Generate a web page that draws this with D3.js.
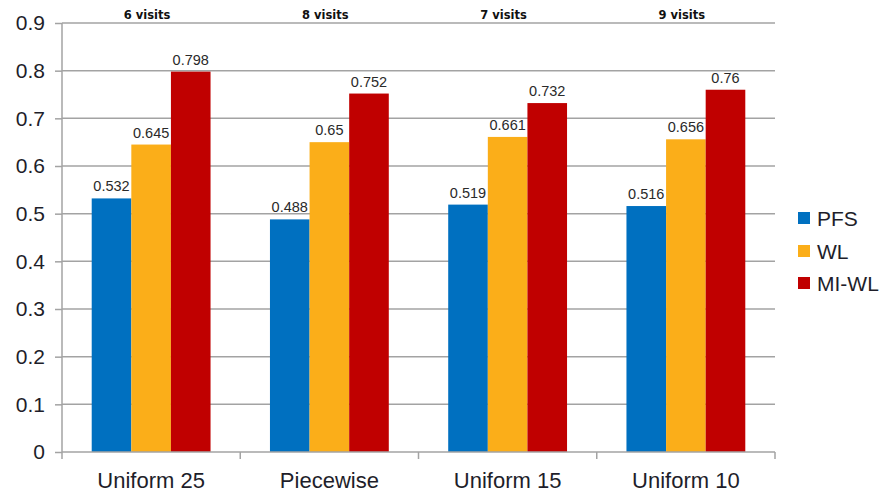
<!DOCTYPE html>
<html>
<head>
<meta charset="utf-8">
<script src="https://cdn.jsdelivr.net/npm/d3@7"></script>
<style>
  html, body { margin: 0; padding: 0; background: #fff; }
  svg { display: block; }
</style>
</head>
<body>
<svg id="chart" width="893" height="493"></svg>
<script>
// Accuracy per sampling scheme
const categories = ["Uniform 25", "Piecewise", "Uniform 15", "Uniform 10"];
const visits = ["6 visits", "8 visits", "7 visits", "9 visits"];
const seriesNames = ["PFS", "WL", "MI-WL"];
const pfs = [0.532, 0.488, 0.519, 0.516];
const wl = [0.645, 0.65, 0.661, 0.656];
const miwl = [0.798, 0.752, 0.732, 0.76];
const yTicks = [0, 0.1, 0.2, 0.3, 0.4, 0.5, 0.6, 0.7, 0.8, 0.9];

const seriesValues = [pfs, wl, miwl];
const colors = ["#0070C0", "#FBAE19", "#C00000"];

const svg = d3.select("#chart");
const plotLeft = 62, plotRight = 775, plotTop = 23, plotBottom = 452;
const textColor = "#1e1e2a";

const x = d3.scaleBand().domain(categories).range([plotLeft, plotRight]).paddingInner(0).paddingOuter(0);
const xi = d3.scaleBand().domain(seriesNames).range([0, x.bandwidth()]).paddingOuter(0.75).paddingInner(0);
const y = d3.scaleLinear().domain([0, 0.9]).range([plotBottom, plotTop]);

// gridlines
svg.append("g").selectAll("line").data(yTicks.filter(d => d > 0)).join("line")
  .attr("x1", plotLeft).attr("x2", plotRight)
  .attr("y1", d => y(d)).attr("y2", d => y(d))
  .attr("stroke", "#a3a3a3").attr("stroke-width", 1.5);

// y axis
const yAxis = svg.append("g").attr("transform", `translate(${plotLeft},0)`)
  .call(d3.axisLeft(y).tickValues(yTicks).tickFormat(d => d === 0 ? "0" : d3.format(".1f")(d)).tickSize(7).tickPadding(10));
yAxis.select(".domain").attr("stroke", "#a3a3a3").attr("stroke-width", 1.5).attr("d", `M0,${plotBottom}V${plotTop}`);
yAxis.selectAll(".tick line").attr("stroke", "#a3a3a3").attr("stroke-width", 1.5);
yAxis.selectAll(".tick text").attr("fill", textColor)
  .style("font-family", "'Liberation Sans', Arial, sans-serif").style("font-size", "21px");

// bars
const groups = svg.append("g").selectAll("g").data(categories).join("g")
  .attr("transform", d => `translate(${x(d)},0)`);
groups.selectAll("rect").data((c, i) => seriesNames.map((s, j) => ({ s, v: seriesValues[j][i], j })))
  .join("rect")
  .attr("x", d => xi(d.s)).attr("width", xi.bandwidth())
  .attr("y", d => y(d.v)).attr("height", d => y(0) - y(d.v))
  .attr("fill", d => colors[d.j]);

// value labels
groups.selectAll("text.val").data((c, i) => seriesNames.map((s, j) => ({ s, v: seriesValues[j][i] })))
  .join("text").attr("class", "val")
  .attr("x", d => xi(d.s) + xi.bandwidth() / 2)
  .attr("y", d => y(d.v) - 7)
  .attr("text-anchor", "middle")
  .attr("fill", "#2a2a2a")
  .style("font-family", "'Liberation Sans', Arial, sans-serif").style("font-size", "14.5px")
  .text(d => String(d.v));

// visit count labels
groups.append("text")
  .attr("x", x.bandwidth() / 2 - 4)
  .attr("y", 19)
  .attr("text-anchor", "middle")
  .attr("fill", "#111")
  .style("font-family", "'DejaVu Sans', Verdana, sans-serif").style("font-weight", "bold").style("font-size", "11.5px")
  .text((d, i) => visits[i]);

// x axis
const xAxis = svg.append("g").attr("transform", `translate(0,${plotBottom})`)
  .call(d3.axisBottom(x).tickSize(0).tickPadding(20));
xAxis.select(".domain").remove();
xAxis.append("line").attr("x1", plotLeft).attr("x2", plotRight).attr("stroke", "#a3a3a3").attr("stroke-width", 1.5);
xAxis.selectAll(".sep").data(d3.range(categories.length + 1)).join("line").attr("class", "sep")
  .attr("x1", i => plotLeft + i * x.bandwidth()).attr("x2", i => plotLeft + i * x.bandwidth())
  .attr("y1", 0).attr("y2", 7).attr("stroke", "#a3a3a3").attr("stroke-width", 1.5);
xAxis.selectAll(".tick text").attr("fill", textColor).attr("dy", "0.71em")
  .style("font-family", "'Liberation Sans', Arial, sans-serif").style("font-size", "22px");

// legend
const legend = svg.append("g").attr("transform", "translate(798,0)");
const ly = [218, 251, 283];
seriesNames.forEach((s, j) => {
  legend.append("rect").attr("x", 0).attr("y", ly[j] - 6).attr("width", 12).attr("height", 12).attr("fill", colors[j]);
  legend.append("text").attr("x", 19).attr("y", ly[j]).attr("dy", "0.36em")
    .attr("fill", textColor)
    .style("font-family", "'Liberation Sans', Arial, sans-serif").style("font-size", "21px")
    .text(s);
});
</script>
</body>
</html>
